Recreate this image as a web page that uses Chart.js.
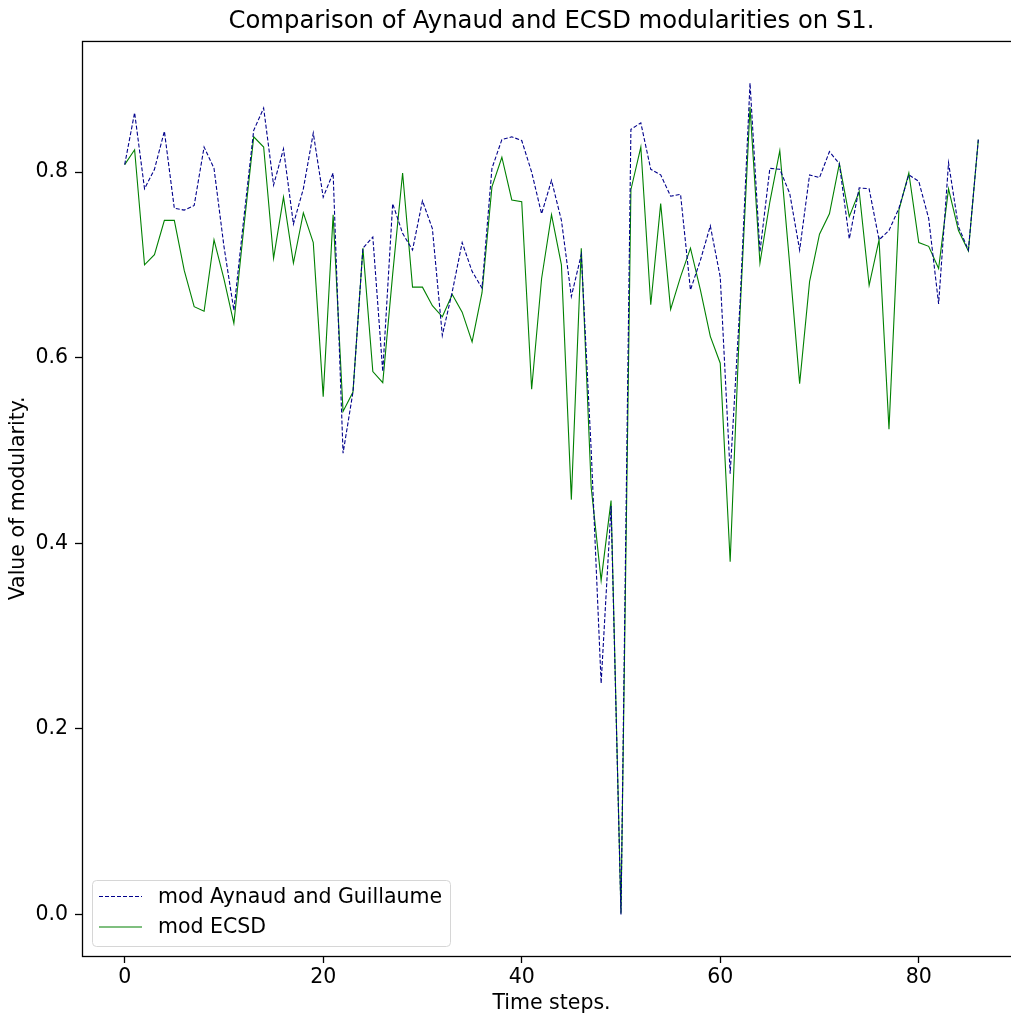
<!DOCTYPE html>
<html>
<head>
<meta charset="utf-8">
<script src="https://cdn.jsdelivr.net/npm/chart.js@4.4.1/dist/chart.umd.min.js"></script>
<style>
  html, body { margin: 0; padding: 0; overflow: hidden; background: #fff; }
  #wrap { width: 1022px; height: 1018px; }
</style>
</head>
<body>
<div id="wrap"><canvas id="chart" width="1022" height="1018"></canvas></div>
<script>
const timeSteps = [
  0, 1, 2, 3, 4, 5, 6, 7, 8, 9, 10, 11, 12, 13, 14, 15, 16, 17, 18, 19,
  20, 21, 22, 23, 24, 25, 26, 27, 28, 29, 30, 31, 32, 33, 34, 35, 36, 37, 38, 39,
  40, 41, 42, 43, 44, 45, 46, 47, 48, 49, 50, 51, 52, 53, 54, 55, 56, 57, 58, 59,
  60, 61, 62, 63, 64, 65, 66, 67, 68, 69, 70, 71, 72, 73, 74, 75, 76, 77, 78, 79,
  80, 81, 82, 83, 84, 85, 86
];

const modAynaud = [
  0.808, 0.864, 0.782, 0.803, 0.844, 0.761, 0.759, 0.764, 0.827, 0.804,
  0.720, 0.651, 0.750, 0.845, 0.869, 0.786, 0.825, 0.744, 0.782, 0.842,
  0.773, 0.799, 0.497, 0.563, 0.718, 0.730, 0.585, 0.766, 0.734, 0.716,
  0.769, 0.739, 0.624, 0.671, 0.724, 0.693, 0.675, 0.804, 0.835, 0.838,
  0.834, 0.800, 0.755, 0.791, 0.748, 0.666, 0.711, 0.500, 0.249, 0.440,
  0.000, 0.846, 0.853, 0.803, 0.797, 0.774, 0.776, 0.673, 0.705, 0.742,
  0.687, 0.475, 0.660, 0.896, 0.714, 0.804, 0.803, 0.777, 0.716, 0.797,
  0.794, 0.822, 0.809, 0.728, 0.783, 0.782, 0.727, 0.737, 0.761, 0.797,
  0.790, 0.750, 0.658, 0.810, 0.741, 0.716, 0.835
];

const modEcsd = [
  0.808, 0.824, 0.700, 0.711, 0.748, 0.748, 0.694, 0.655, 0.650, 0.727,
  0.685, 0.637, 0.740, 0.838, 0.827, 0.707, 0.773, 0.702, 0.756, 0.724,
  0.558, 0.754, 0.542, 0.563, 0.718, 0.585, 0.573, 0.690, 0.799, 0.676,
  0.676, 0.656, 0.644, 0.668, 0.649, 0.617, 0.670, 0.784, 0.816, 0.770,
  0.768, 0.566, 0.685, 0.754, 0.700, 0.447, 0.718, 0.460, 0.360, 0.446,
  0.001, 0.781, 0.827, 0.657, 0.766, 0.652, 0.687, 0.718, 0.673, 0.623,
  0.594, 0.380, 0.650, 0.870, 0.702, 0.768, 0.823, 0.700, 0.572, 0.682,
  0.733, 0.755, 0.809, 0.752, 0.779, 0.678, 0.727, 0.523, 0.759, 0.799,
  0.724, 0.720, 0.696, 0.782, 0.737, 0.715, 0.835
];

const xTicks = [0, 20, 40, 60, 80];
const yTicks = [0, 0.2, 0.4, 0.6, 0.8];

const FONT = "'DejaVu Sans', sans-serif";

// black box round the plot, like matplotlib spines
const frame = {
  id: 'frame',
  afterDatasetsDraw(chart) {
    const { ctx, chartArea: a } = chart;
    ctx.save();
    ctx.strokeStyle = '#000';
    ctx.lineWidth = 1.3;
    ctx.strokeRect(a.left + 0.5, a.top + 0.5, a.right - a.left - 1, a.bottom - a.top);
    ctx.restore();
  }
};

// legend inside the axes, lower left
const innerLegend = {
  id: 'innerLegend',
  afterDraw(chart) {
    const { ctx, chartArea: a } = chart;
    const w = 358, h = 66;
    const x = a.left + 10, y = a.bottom - 10 - h;
    ctx.save();
    ctx.beginPath();
    ctx.roundRect(x + 0.5, y + 0.5, w, h, 4);
    ctx.fillStyle = 'rgba(255,255,255,0.8)';
    ctx.fill();
    ctx.strokeStyle = '#d6d6d6';
    ctx.lineWidth = 1;
    ctx.stroke();
    ctx.font = '20.5px ' + FONT;
    ctx.textBaseline = 'middle';
    chart.data.datasets.forEach((ds, i) => {
      const ly = y + 16.5 + i * 30.5;
      ctx.beginPath();
      ctx.setLineDash(ds.borderDash || []);
      ctx.strokeStyle = ds.borderColor;
      ctx.lineWidth = ds.borderWidth;
      ctx.moveTo(x + 7, ly);
      ctx.lineTo(x + 50, ly);
      ctx.stroke();
      ctx.setLineDash([]);
      ctx.fillStyle = '#000';
      ctx.fillText(ds.label, x + 66, ly + 1);
    });
    ctx.restore();
  }
};

new Chart(document.getElementById('chart'), {
  type: 'line',
  data: {
    datasets: [
      {
        label: 'mod Aynaud and Guillaume',
        data: timeSteps.map((t, i) => ({ x: t, y: modAynaud[i] })),
        borderColor: '#00008b',
        borderWidth: 1.1,
        borderDash: [4, 2],
        pointRadius: 0,
        tension: 0,
        fill: false
      },
      {
        label: 'mod ECSD',
        data: timeSteps.map((t, i) => ({ x: t, y: modEcsd[i] })),
        borderColor: '#008000',
        borderWidth: 1.1,
        pointRadius: 0,
        tension: 0,
        fill: false
      }
    ]
  },
  options: {
    responsive: false,
    animation: false,
    events: [],
    layout: { padding: { left: 0, right: 1, top: 0, bottom: 0 } },
    plugins: {
      legend: { display: false },
      tooltip: { enabled: false },
      title: {
        display: true,
        fullSize: false,
        text: 'Comparison of Aynaud and ECSD modularities on S1.',
        color: '#000',
        font: { family: FONT, size: 24.3, weight: 'normal' },
        padding: { top: 7, bottom: 4.8 }
      }
    },
    scales: {
      x: {
        type: 'linear',
        min: -4.3,
        max: 90.3,
        afterBuildTicks: s => { s.ticks = xTicks.map(v => ({ value: v })); },
        afterFit: s => { s.height = 62; },
        grid: { drawOnChartArea: false, tickLength: 7, tickColor: '#000', tickWidth: 1.3 },
        border: { display: false },
        ticks: { color: '#000', font: { family: FONT, size: 20.5 }, padding: 2, maxRotation: 0 },
        title: {
          display: true,
          text: 'Time steps.',
          color: '#000',
          font: { family: FONT, size: 20.5 },
          padding: { top: 0, bottom: 2.5 }
        }
      },
      y: {
        min: -0.0448,
        max: 0.9413,
        afterBuildTicks: s => { s.ticks = yTicks.map(v => ({ value: v })); },
        afterFit: s => { s.width = 82; },
        grid: { drawOnChartArea: false, tickLength: 7, tickColor: '#000', tickWidth: 1.3 },
        border: { display: false },
        ticks: {
          color: '#000',
          font: { family: FONT, size: 20.5 },
          padding: 7,
          callback: v => v.toFixed(1)
        },
        title: {
          display: true,
          text: 'Value of modularity.',
          color: '#000',
          font: { family: FONT, size: 20.5 },
          padding: { top: 6, bottom: 0 }
        }
      }
    }
  },
  plugins: [frame, innerLegend]
});
</script>
</body>
</html>
